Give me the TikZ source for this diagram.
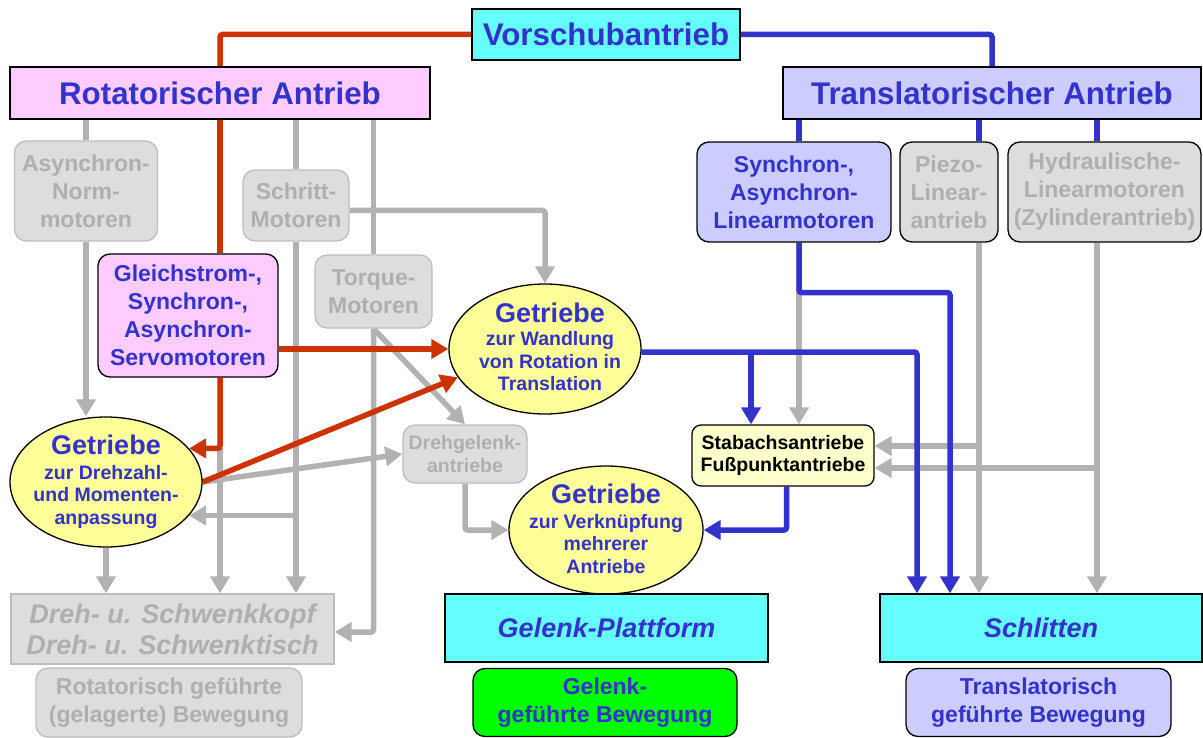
\documentclass[tikz,border=0pt]{standalone}
\usepackage{fontspec}
\setmainfont{Liberation Sans}
\usetikzlibrary{arrows.meta,shapes.geometric,calc,backgrounds}

\definecolor{txtblue}{HTML}{3333CC}
\definecolor{lnred}{HTML}{CC3300}
\definecolor{lnblue}{HTML}{3333CC}
\definecolor{lngray}{HTML}{B2B2B2}
\definecolor{cyanfill}{HTML}{66FFFF}
\definecolor{pinkfill}{HTML}{FFCCFF}
\definecolor{lavfill}{HTML}{CCCCFF}
\definecolor{yelfill}{HTML}{FFFF99}
\definecolor{creamfill}{HTML}{FFFFCC}
\definecolor{greyfill}{HTML}{DDDDDD}
\definecolor{greytext}{HTML}{AFAFAF}
\definecolor{greyedge}{HTML}{BDBDBD}
\definecolor{greenfill}{HTML}{00FF00}

% font sizes (1pt = 1 unit of the picture)
\newcommand\szA{\fontsize{31.3}{35}\selectfont}
\newcommand\szB{\fontsize{27}{31}\selectfont}
\newcommand\szC{\fontsize{23}{28}\selectfont}
\newcommand\szD{\fontsize{19.5}{22.5}\selectfont}

\tikzset{
  arr/.style={-{Triangle[length=17pt,width=19pt]}},
  wire/.style={line width=5.5pt, rounded corners=2.5pt},
  redw/.style={wire, draw=lnred},
  bluew/.style={wire, draw=lnblue},
  grayw/.style={wire, draw=lngray},
  boxbase/.style={draw=black, line width=1.3pt, inner sep=0pt, align=center,
                  font=\bfseries\szC, text=txtblue},
  headbox/.style={boxbase, font=\bfseries\szA},
  platebox/.style={boxbase, fill=cyanfill, font=\bfseries\itshape\szB},
  roundbox/.style={boxbase, rounded corners=12pt},
  greybox/.style={boxbase, rounded corners=12pt, fill=greyfill, draw=greyedge, text=greytext},
  greyblack/.style={boxbase, rounded corners=12pt, fill=greyfill, text=greytext},
  gearell/.style={ellipse, draw=black, line width=1.3pt, fill=yelfill, inner sep=0pt},
  geartext/.style={align=center, inner sep=0pt, font=\bfseries\szD, text=txtblue},
}

\begin{document}
\begin{tikzpicture}[x=1pt,y=-1pt]
\useasboundingbox (0,0) rectangle (1203,738);

% ---------- top level ----------
\node[headbox, fill=cyanfill, minimum width=268, minimum height=51] (vor) at (606,34.5) {Vorschubantrieb};
\node[headbox, fill=pinkfill, minimum width=420, minimum height=52] (rot) at (220,93) {Rotatorischer Antrieb};
\node[headbox, fill=lavfill, minimum width=418, minimum height=52] (tra) at (992,93) {Translatorischer Antrieb};

% ---------- rotary motors ----------
\node[greybox, minimum width=143, minimum height=100] (asy) at (86,191) {Asynchron-\\Norm-\\motoren};
\node[greybox, minimum width=106, minimum height=71] (sch) at (296,205.5) {Schritt-\\Motoren};
\node[greybox, minimum width=117, minimum height=73] (tq) at (373.5,291.5) {Torque-\\Motoren};
\node[roundbox, fill=pinkfill, minimum width=180, minimum height=123] (gl) at (188,315.5) {Gleichstrom-,\\Synchron-,\\Asynchron-\\Servomotoren};

% ---------- gears ----------
\node[gearell, minimum width=192, minimum height=130] (dz) at (106,482) {};
\node[geartext] (dzt) at (106,482) {{\szB Getriebe}\\[2pt]zur Drehzahl-\\und Momenten-\\anpassung};
\node[gearell, minimum width=192, minimum height=130] (wd) at (545,349) {};
\node[geartext] (wdt) at (550,347) {{\szB Getriebe}\\[1pt]zur Wandlung\\von Rotation in\\Translation};
\node[gearell, minimum width=194, minimum height=128] (vk) at (606,530) {};
\node[geartext] (vkt) at (606,529) {{\szB Getriebe}\\[2pt]zur Verknüpfung\\mehrerer\\Antriebe};

\node[greybox, font=\bfseries\szD, minimum width=124, minimum height=58] (dg) at (465,454) {Drehgelenk-\\antriebe};

% ---------- linear motors ----------
\node[roundbox, fill=lavfill, minimum width=194, minimum height=100] (syn) at (794,192) {Synchron-,\\Asynchron-\\Linearmotoren};
\node[greyblack, minimum width=98, minimum height=100] (pz) at (949,192) {Piezo-\\Linear-\\antrieb};
\node[greyblack, minimum width=193, minimum height=100] (hy) at (1104.5,192) {Hydraulische-\\Linearmotoren\\(Zylinderantrieb)};
\node[boxbase, rounded corners=9pt, fill=creamfill, text=black, font=\bfseries\szD, minimum width=182, minimum height=61] (st) at (783,455.5) {Stabachsantriebe\\Fußpunktantriebe};

% ---------- outputs ----------
\node[boxbase, fill=greyfill, draw=greyedge, text=greytext, font=\bfseries\itshape\fontsize{27}{31}\selectfont, minimum width=323, minimum height=70] (sw) at (172.5,629) {Dreh- u. Schwenkkopf\\Dreh- u. Schwenktisch};
\node[greybox, minimum width=266, minimum height=69] (rg) at (169,702.5) {Rotatorisch geführte\\(gelagerte) Bewegung};
\node[platebox, minimum width=323, minimum height=68] (gp) at (606.5,628) {Gelenk-Plattform};
\node[roundbox, fill=greenfill, minimum width=264, minimum height=68] (gg) at (605,702.5) {Gelenk-\\geführte Bewegung};
\node[platebox, minimum width=322, minimum height=68] (sl) at (1041,628) {Schlitten};
\node[roundbox, fill=lavfill, minimum width=265, minimum height=68] (tg) at (1038.5,702.5) {Translatorisch\\geführte Bewegung};

% ---------- helper points on the boxes ----------
\coordinate (cSn) at ([xshift=5pt]syn.north);
\coordinate (cS)  at ([xshift=5pt]syn.south);
\coordinate (cPn) at ([xshift=30pt]pz.north);
\coordinate (cP)  at ([xshift=30pt]pz.south);
\coordinate (cHn) at ([xshift=-7.5pt]hy.north);
\coordinate (cH)  at ([xshift=-7.5pt]hy.south);
\coordinate (sA)  at ([yshift=9.5pt]st.east);
\coordinate (sB)  at ([yshift=-12.5pt]st.east);
\coordinate (sT1) at ([xshift=-32pt]st.north);
\coordinate (sT2) at ([xshift=16pt]st.north);
\coordinate (sBot) at ([xshift=3.5pt]st.south);
\coordinate (lA)  at ([xshift=-124pt]sl.north);
\coordinate (lB)  at ([xshift=-91pt]sl.north);
\coordinate (wE)  at ([yshift=-3pt]wd.east);
\coordinate (schE) at ([yshift=-5pt]sch.east);
\coordinate (swE) at ([yshift=-3pt]sw.east);

\begin{pgfonlayer}{background}
% ---------- grey connectors ----------
\draw[grayw] (asy.north |- rot.south) -- (asy.north);
\draw[grayw,arr] (asy.south) -- (asy.south |- dz.north);
\draw[grayw] (sch.north |- rot.south) -- (sch.north);
\draw[grayw,arr] (schE) -| (wd.north);
\draw[grayw,arr] (sch.south) -- (sch.south |- sw.north);
\draw[grayw] (tq.north |- rot.south) -- (tq.north);
\draw[grayw,arr] (tq.south) |- (swE);
\draw[grayw,arr] (tq.south) -- (dg.north);
\draw[grayw,arr] (sch.south |- dz.-22) -- (dz.-22);
\draw[grayw,arr] (dz.east) -- (dg.west);
\draw[grayw,arr] (rot.south |- dz.22) -- (rot.south |- sw.north);
\draw[grayw,arr] (dz.south) -- (dz.south |- sw.north);
\draw[grayw,arr] (dg.south) |- (vk.west);
\draw[grayw,arr] (sT2 |- cS) -- (sT2);
\draw[grayw,arr] (cP) -- (cP |- sl.north);
\draw[grayw,arr] (cP |- sA) -- (sA);
\draw[grayw,arr] (cH) -- (cH |- sl.north);
\draw[grayw,arr] (cH |- sB) -- (sB);

% ---------- blue connectors ----------
\draw[bluew] (vor.east) -| (tra.north);
\draw[bluew] (cSn |- tra.south) -- (cSn);
\draw[bluew] (cPn |- tra.south) -- (cPn);
\draw[bluew] (cHn |- tra.south) -- (cHn);
\draw[bluew,arr] (cS) -- ++(0,50) -| (lB);
\draw[bluew,arr] (wE) -| (lA);
\draw[bluew,arr] (sT1 |- wE) -- (sT1);
\draw[bluew,arr] (sBot) |- (vk.east);

% ---------- red connectors ----------
\draw[redw] (vor.west) -| (rot.north);
\draw[redw] (rot.south) -- (rot.south |- gl.north);
\draw[redw,arr] (rot.south |- gl.south) |- (dz.22);
\draw[redw,arr] (gl.east |- wd.west) -- (wd.west);
\draw[redw,arr] (dz.east) -- (wd.198);
\end{pgfonlayer}
\end{tikzpicture}
\end{document}
